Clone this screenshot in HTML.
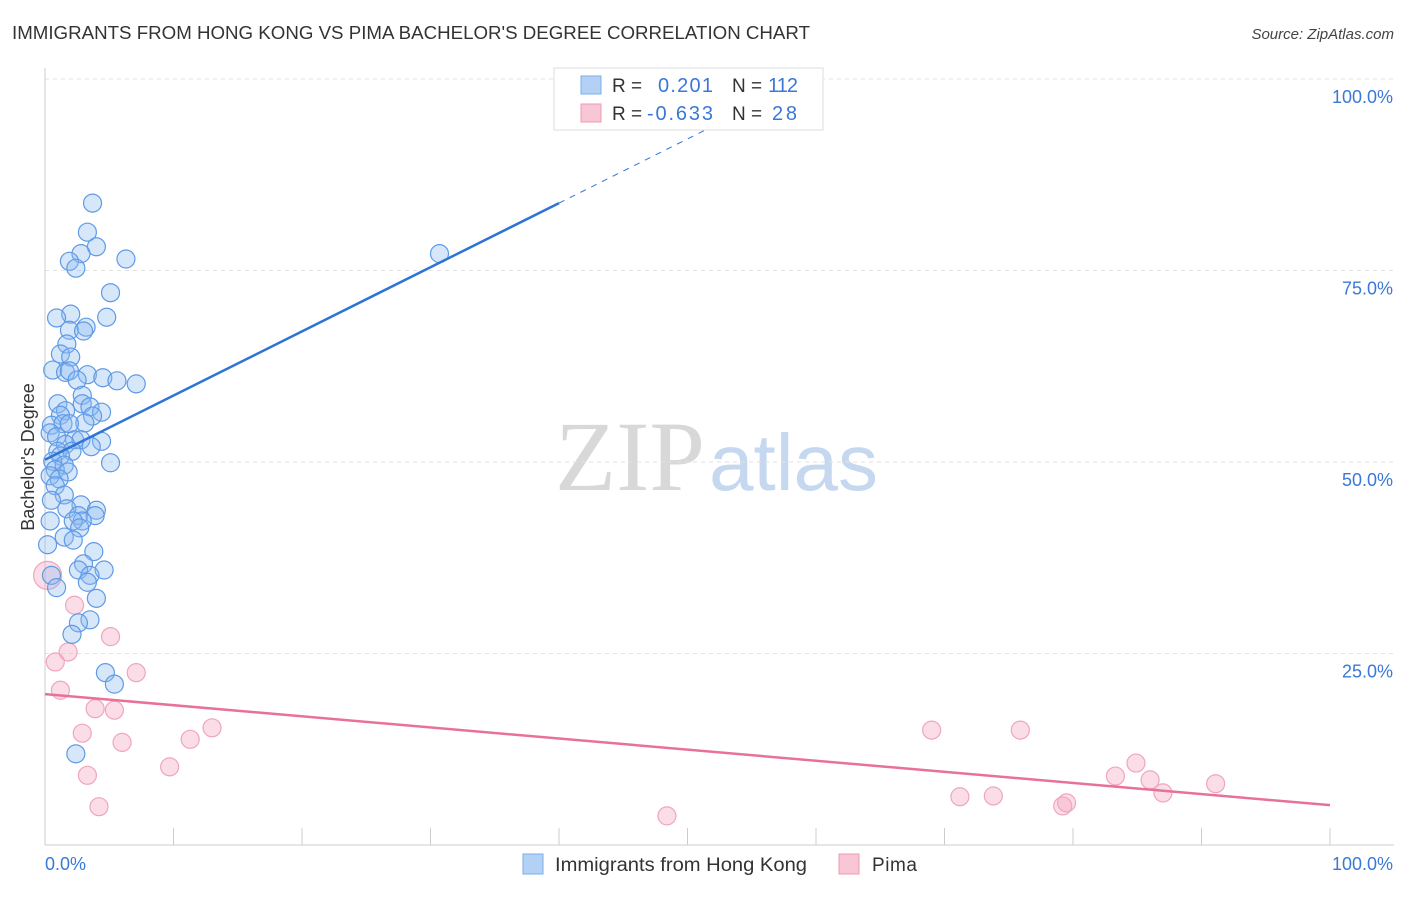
<!DOCTYPE html>
<html><head><meta charset="utf-8">
<style>
body{margin:0;background:#fff;font-family:"Liberation Sans",sans-serif;}
svg text{font-family:"Liberation Sans",sans-serif;}
</style></head>
<body>
<svg id="chart" width="1406" height="892" xmlns="http://www.w3.org/2000/svg">
<text x="12" y="39" font-size="18" fill="#333" textLength="798" lengthAdjust="spacingAndGlyphs">IMMIGRANTS FROM HONG KONG VS PIMA BACHELOR'S DEGREE CORRELATION CHART</text>
<text x="1394" y="39" font-size="15" fill="#444" text-anchor="end" font-style="italic">Source: ZipAtlas.com</text>
<text x="555" y="490" font-size="100"><tspan font-family="Liberation Serif" fill="#d8d8d8">ZIP</tspan><tspan fill="#c5d8ef" font-size="80" dx="4">atlas</tspan></text>
<g id="grid"></g>
<g id="axes"></g>
<g id="marks"></g>
<text transform="translate(34,457) rotate(-90)" font-size="18" fill="#333" text-anchor="middle">Bachelor's Degree</text>
<g>
<rect x="554" y="68" width="269" height="62" fill="#fff" stroke="#ddd"/>
<rect x="581" y="76" width="20" height="18" fill="#b3d1f5" stroke="#7aaee8"/>
<text x="612" y="92" font-size="19" fill="#333">R = </text><text x="658" y="92" font-size="20" fill="#3a78d8" textLength="55">0.201</text>
<text x="732" y="92" font-size="19" fill="#333">N = </text><text x="768" y="92" font-size="20" fill="#3a78d8" textLength="30">112</text>
<rect x="581" y="104" width="20" height="18" fill="#f8c6d5" stroke="#ee9ab3"/>
<text x="612" y="120" font-size="19" fill="#333">R = </text><text x="647" y="120" font-size="20" fill="#3a78d8" textLength="66">-0.633</text>
<text x="732" y="120" font-size="19" fill="#333">N = </text><text x="772" y="120" font-size="20" fill="#3a78d8" textLength="25">28</text>
</g>
<g>
<rect x="523" y="854" width="20" height="20" fill="#b3d1f5" stroke="#7aaee8"/>
<text x="555" y="871" font-size="19" fill="#333" textLength="252" lengthAdjust="spacingAndGlyphs">Immigrants from Hong Kong</text>
<rect x="839" y="854" width="20" height="20" fill="#f8c6d5" stroke="#ee9ab3"/>
<text x="872" y="871" font-size="19" fill="#333" textLength="45">Pima</text>
</g>
</svg>
<script>
const yTicks=[25,50,75,100];
const yTickLabels=["25.0%","50.0%","75.0%","100.0%"];
const xTicks=[0,10,20,30,40,50,60,70,80,90,100];
const blueX=[3.7,3.3,4.0,2.8,1.9,2.4,6.3,5.1,2.0,0.9,4.8,1.9,3.2,3.0,1.7,1.2,2.0,0.6,1.6,1.9,3.3,4.5,5.6,7.1,2.5,2.9,1.0,2.9,3.5,4.4,1.6,1.2,3.7,3.1,0.5,1.4,1.9,0.4,0.9,2.3,2.8,4.4,1.6,3.6,1.0,2.1,1.2,0.6,5.1,1.5,0.8,1.8,0.4,1.1,0.8,1.5,0.5,2.8,1.7,4.0,2.6,3.9,2.9,0.4,2.2,2.7,1.5,2.2,0.2,3.8,3.0,2.6,4.6,3.5,0.5,3.3,0.9,4.0,3.5,2.6,2.1,4.7,5.4,2.4,30.7];
const blueY=[83.8,80.0,78.1,77.2,76.2,75.3,76.5,72.1,69.3,68.8,68.9,67.2,67.6,67.1,65.4,64.1,63.7,62.0,61.7,61.9,61.4,61.0,60.6,60.2,60.7,58.7,57.6,57.6,57.2,56.5,56.7,56.1,56.0,55.1,54.8,55.0,55.0,53.8,53.3,52.9,52.9,52.7,52.3,52.0,51.4,51.4,50.8,50.1,49.9,49.6,49.0,48.7,48.2,47.8,46.9,45.7,45.0,44.4,43.9,43.7,43.0,43.0,42.3,42.3,42.3,41.4,40.2,39.8,39.2,38.3,36.7,35.9,35.9,35.2,35.2,34.3,33.6,32.2,29.4,29.0,27.5,22.5,21.0,11.9,77.2];
const pinkX=[0.2,2.3,5.1,1.8,0.8,7.1,1.2,3.9,5.4,2.9,6.0,11.3,13.0,9.7,3.3,4.2,48.4,69.0,75.9,71.2,73.8,79.2,79.5,83.3,84.9,86.0,87.0,91.1];
const pinkY=[35.2,31.3,27.2,25.2,23.9,22.5,20.2,17.8,17.6,14.6,13.4,13.8,15.3,10.2,9.1,5.0,3.8,15.0,15.0,6.3,6.4,5.1,5.5,9.0,10.7,8.5,6.8,8.0];
const blueLine=[50.3,83.8]; // y at x=0 and x=40
const pinkLine=[19.7,5.2];  // y at x=0 and x=100
const NS="http://www.w3.org/2000/svg";
const X=v=>45+v*12.85, Y=v=>845-v*7.66;
function mk(parent,tag,attrs){const e=document.createElementNS(NS,tag);for(const k in attrs)e.setAttribute(k,attrs[k]);document.getElementById(parent).appendChild(e);return e;}
yTicks.forEach((t,i)=>{
 const g=mk('grid','line',{x1:45,x2:1394,y1:Y(t),y2:Y(t),stroke:'#e2e2e2','stroke-dasharray':'4,4'});
 
 
 const l=mk('axes','text',{x:1393,y:Y(t)+24,'font-size':18,fill:'#3a78d8','text-anchor':'end'});
 l.textContent=yTickLabels[i];
 
 
});
const ax=mk('axes','line',{x1:45,x2:1394,y1:845,y2:845,stroke:'#ccc'});


const ay=mk('axes','line',{x1:45,x2:45,y1:68,y2:845,stroke:'#ccc'});


xTicks.forEach(t=>{const e=mk('axes','line',{x1:X(t),x2:X(t),y1:828,y2:845,stroke:'#ccc'});
 
 });
const xl0=mk('axes','text',{x:45,y:870,'font-size':18,fill:'#3a78d8'});xl0.textContent='0.0%';


const xl1=mk('axes','text',{x:1393,y:870,'font-size':18,fill:'#3a78d8','text-anchor':'end'});xl1.textContent='100.0%';


pinkX.forEach((x,i)=>{const c=mk('marks','circle',{cx:X(x),cy:Y(pinkY[i]),r:i==0?14:9,fill:'rgba(246,170,195,0.4)',stroke:'#f0a5bd','stroke-width':1.2});
 
 });
blueX.forEach((x,i)=>{const c=mk('marks','circle',{cx:X(x),cy:Y(blueY[i]),r:9,fill:'rgba(140,185,240,0.35)',stroke:'#5f9ae6','stroke-width':1.2});
 
 });
const slope=(blueLine[1]-blueLine[0])/40;
const bl=mk('marks','line',{x1:X(0),y1:Y(blueLine[0]),x2:X(40),y2:Y(blueLine[1]),stroke:'#2e74d6','stroke-width':2.5});


const bd=mk('marks','line',{x1:X(40),y1:Y(blueLine[1]),x2:X(55),y2:Y(blueLine[0]+slope*55),stroke:'#2e74d6','stroke-width':1,'stroke-dasharray':'6,6'});


const pl=mk('marks','line',{x1:X(0),y1:Y(pinkLine[0]),x2:X(100),y2:Y(pinkLine[1]),stroke:'#e8719a','stroke-width':2.5});


</script>
</body></html>
